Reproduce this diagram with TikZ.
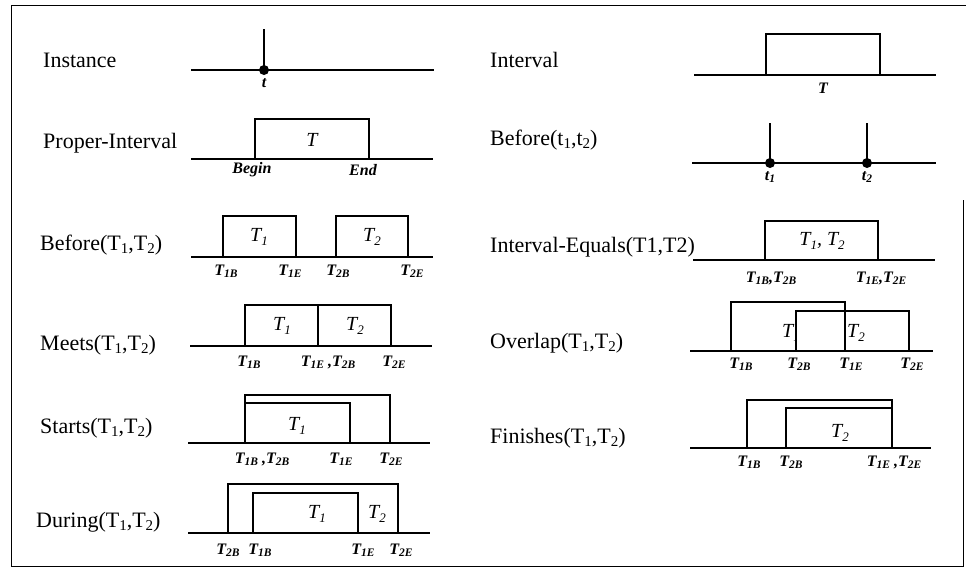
\documentclass[tikz,border=0pt]{standalone}
\usepackage{fontspec}
\setmainfont{Liberation Serif}
\newcommand\msb[1]{\raisebox{-0.35ex}{\fontsize{15}{15}\selectfont #1}}
\newcommand\isb[1]{\raisebox{-0.35ex}{\fontsize{13}{13}\selectfont #1}}
\newcommand\lsb[1]{\raisebox{-0.3ex}{\fontsize{11.5}{11.5}\selectfont #1}}
\begin{document}
\begin{tikzpicture}[x=1pt,y=-1pt,
  lbl/.style={font=\fontsize{22}{24}\selectfont, anchor=west, inner sep=0pt},
  tick/.style={font=\fontsize{16}{16}\selectfont\bfseries\itshape, inner sep=0pt},
  inl/.style={font=\fontsize{20}{20}\selectfont\itshape, inner sep=0pt},
  ax/.style={line width=1.3pt},
  bx/.style={line width=1.3pt},
  frame/.style={line width=1pt}]
\useasboundingbox (0,0) rectangle (966,576);
% frame
\draw[frame] (966,5) -- (11,5) -- (11,566) -- (963,566) -- (963,200);

% Instance
\node[lbl] (lInst) at (43,60) {Instance};
\draw[ax] (191,70) -- (434,70);
\draw[ax] (264,29) -- (264,70);
\fill (264,70) circle[radius=5pt];
\node[tick] (tInst) at (264,83) {t};

% Interval
\node[lbl] (lIntv) at (490,60) {Interval};
\draw[ax] (694,75) -- (936,75);
\draw[bx] (766,75) -- (766,34) -- (880,34) -- (880,75);
\node[tick] (tIntv) at (823,88) {T};

% Proper-Interval
\node[lbl] (lProp) at (43,143) {Proper-Interval};
\draw[ax] (191,159) -- (433,159);
\draw[bx] (255,159) -- (255,119) -- (369,119) -- (369,159);
\node[inl] (iProp) at (312,140) {T};
\node[tick] (tBegin) at (252,170) {Begin};
\node[tick] (tEnd) at (363,170) {End};

% Before(t1,t2)
\node[lbl] (lBt) at (490,140) {Before(t\msb{1},t\msb{2})};
\draw[ax] (692,163) -- (936,163);
\draw[ax] (770,123) -- (770,163);
\draw[ax] (867,123) -- (867,163);
\fill (770,163) circle[radius=5pt];
\fill (867,163) circle[radius=5pt];
\node[tick] (tt1) at (770,177) {t\lsb{1}};
\node[tick] (tt2) at (867,177) {t\lsb{2}};

% Before(T1,T2)
\node[lbl] (lBT) at (40,245) {Before(T\msb{1},T\msb{2})};
\draw[ax] (191,257) -- (433,257);
\draw[bx] (223,257) -- (223,216) -- (296,216) -- (296,257);
\draw[bx] (336,257) -- (336,216) -- (408,216) -- (408,257);
\node[inl] (iBT1) at (259,237) {T\isb{1}};
\node[inl] (iBT2) at (372,237) {T\isb{2}};
\node[tick] (bT1B) at (226,271) {T\lsb{1B}};
\node[tick] (bT1E) at (290,271) {T\lsb{1E}};
\node[tick] (bT2B) at (338,271) {T\lsb{2B}};
\node[tick] (bT2E) at (412,271) {T\lsb{2E}};

% Interval-Equals
\node[lbl] (lIE) at (490,247) {Interval-Equals(T1,T2)};
\draw[ax] (693,260) -- (935,260);
\draw[bx] (765,260) -- (765,221) -- (878,221) -- (878,260);
\node[inl] (iIE) at (822,241) {T\isb{1}, T\isb{2}};
\node[tick] (eB) at (771,278) {T\lsb{1B},T\lsb{2B}};
\node[tick] (eE) at (881,278) {T\lsb{1E},T\lsb{2E}};

% Meets
\node[lbl] (lMe) at (40,345) {Meets(T\msb{1},T\msb{2})};
\draw[ax] (190,346) -- (432,346);
\draw[bx] (245,346) -- (245,305) -- (318,305) -- (318,346);
\draw[bx] (318,305) -- (391,305) -- (391,346);
\node[inl] (iMe1) at (282,326) {T\isb{1}};
\node[inl] (iMe2) at (355,326) {T\isb{2}};
\node[tick] (mT1B) at (249,362) {T\lsb{1B}};
\node[tick] (mT1E) at (328,362) {T\lsb{1E} ,T\lsb{2B}};
\node[tick] (mT2E) at (394,362) {T\lsb{2E}};

% Overlap
\node[lbl] (lOv) at (490,343) {Overlap(T\msb{1},T\msb{2})};
\draw[ax] (690,351) -- (933,351);
\node[inl] (iOv1) at (791,333) {T\isb{1}};
\fill[white] (797,350) rectangle (908,312);
\draw[bx] (731,351) -- (731,302) -- (845,302) -- (845,351);
\draw[bx] (796,351) -- (796,311) -- (909,311) -- (909,351);
\node[inl] (iOv2) at (856,333) {T\isb{2}};
\node[tick] (oT1B) at (741,364) {T\lsb{1B}};
\node[tick] (oT2B) at (799,364) {T\lsb{2B}};
\node[tick] (oT1E) at (851,364) {T\lsb{1E}};
\node[tick] (oT2E) at (912,364) {T\lsb{2E}};

% Starts
\node[lbl] (lSt) at (40,428) {Starts(T\msb{1},T\msb{2})};
\draw[ax] (188,443) -- (430,443);
\draw[bx] (245,443) -- (245,395) -- (390,395) -- (390,443);
\draw[bx] (245,403) -- (350,403) -- (350,443);
\node[inl] (iSt) at (297,426) {T\isb{1}};
\node[tick] (sB) at (262,459) {T\lsb{1B} ,T\lsb{2B}};
\node[tick] (sT1E) at (341,459) {T\lsb{1E}};
\node[tick] (sT2E) at (391,459) {T\lsb{2E}};

% Finishes
\node[lbl] (lFi) at (490,438) {Finishes(T\msb{1},T\msb{2})};
\draw[ax] (690,448) -- (931,448);
\draw[bx] (747,448) -- (747,400) -- (892,400) -- (892,448);
\draw[bx] (786,448) -- (786,408) -- (892,408);
\node[inl] (iFi) at (840,433) {T\isb{2}};
\node[tick] (fT1B) at (749,462) {T\lsb{1B}};
\node[tick] (fT2B) at (791,462) {T\lsb{2B}};
\node[tick] (fE) at (894,462) {T\lsb{1E} ,T\lsb{2E}};

% During
\node[lbl] (lDu) at (36,522) {During(T\msb{1},T\msb{2})};
\draw[ax] (188,533) -- (430,533);
\draw[bx] (228,533) -- (228,484) -- (398,484) -- (398,533);
\draw[bx] (253,533) -- (253,493) -- (358,493) -- (358,533);
\node[inl] (iDu1) at (317,514) {T\isb{1}};
\node[inl] (iDu2) at (377,514) {T\isb{2}};
\node[tick] (dT2B) at (228,550) {T\lsb{2B}};
\node[tick] (dT1B) at (260,550) {T\lsb{1B}};
\node[tick] (dT1E) at (363,550) {T\lsb{1E}};
\node[tick] (dT2E) at (401,550) {T\lsb{2E}};
\end{tikzpicture}
\end{document}
